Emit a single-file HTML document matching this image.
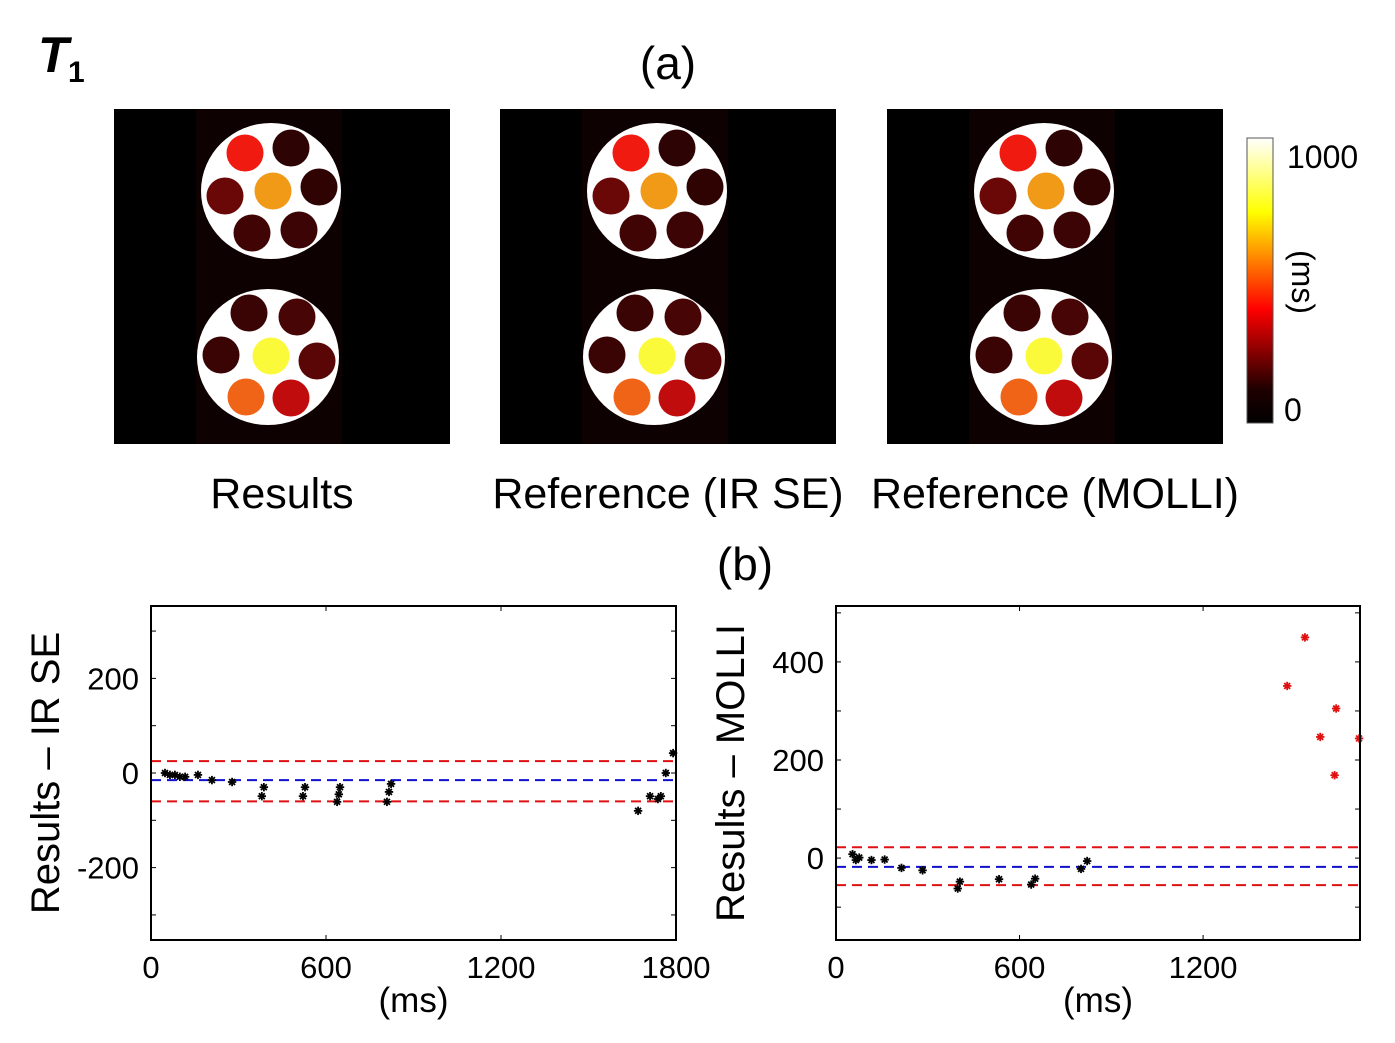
<!DOCTYPE html>
<html><head><meta charset="utf-8"><style>
html,body{margin:0;padding:0;background:#fff;}
svg{display:block;font-family:"Liberation Sans",Arial,sans-serif;}
</style></head><body>
<svg id="fig" width="1395" height="1043" viewBox="0 0 1395 1043">
<defs>
<linearGradient id="hot" x1="0" y1="1" x2="0" y2="0">
<stop offset="0" stop-color="#000"/><stop offset="0.12" stop-color="#200000"/><stop offset="0.4" stop-color="#ff0000"/><stop offset="0.74" stop-color="#ffff00"/><stop offset="1" stop-color="#fff"/>
</linearGradient>
<g id="phantom">
<rect x="0" y="0" width="336" height="335" fill="#000"/>
<rect x="82" y="0" width="146" height="335" fill="#0e0101"/>
<ellipse cx="157" cy="82" rx="70" ry="68" fill="#fff"/>
<ellipse cx="154" cy="248" rx="71" ry="68" fill="#fff"/>
</g>
</defs>
<text x="38" y="72" font-size="50" font-weight="bold" font-style="italic">T</text>
<text x="68" y="82" font-size="30" font-weight="bold">1</text>
<text x="668" y="79" font-size="46" text-anchor="middle">(a)</text>
<g id="panels"></g>
<rect x="1247" y="138" width="26" height="285" fill="url(#hot)" stroke="#555" stroke-width="1"/>
<text x="1287" y="168" font-size="32">1000</text>
<text x="1284" y="421" font-size="32">0</text>
<text transform="translate(1292,282) rotate(90)" font-size="32" text-anchor="middle">(ms)</text>
<text x="282" y="508" font-size="43" text-anchor="middle">Results</text>
<text x="668" y="508" font-size="43" text-anchor="middle">Reference (IR SE)</text>
<text x="1055" y="508" font-size="43" text-anchor="middle">Reference (MOLLI)</text>
<text x="745" y="580" font-size="46" text-anchor="middle">(b)</text>
<g id="plots"></g>
</svg>
<script>
const NS='http://www.w3.org/2000/svg';
function mk(tag,attrs,parent){const e=document.createElementNS(NS,tag);for(const k in attrs)e.setAttribute(k,attrs[k]);parent.appendChild(e);return e;}
const panelX=[114,500,887];
const panelNames=['results-map','reference-irse-map','reference-molli-map'];
const vialCx=[131,177,111,159,205,138,185, 135,183,107,157,203,132,177];
const vialCy=[44,39,87,82,78,124,121, 204,208,246,247,252,288,289];
const vialColor=['#f01a10','#2e0303','#6a0808','#f09a18','#300303','#400404','#3c0404','#3a0404','#480505','#3a0404','#fafa3a','#5a0606','#f06418','#c00c0c'];
const panels=document.getElementById('panels');
panelX.forEach((px,i)=>{
  const g=mk('g',{transform:`translate(${px},109)`},panels);
  
  
  mk('use',{href:'#phantom'},g);
  vialCx.forEach((cx,j)=>{
    const c=mk('circle',{cx:cx,cy:vialCy[j],r:18.5,fill:vialColor[j]},g);
    
    
  });
});
const leftX=[48,65,82,99,117,161,209,278,380,387,521,528,638,644,648,809,816,823,1670,1711,1738,1748,1765,1790];
const leftY=[0,-4,-4,-8,-8,-4,-15,-19,-49,-30,-49,-30,-61,-45,-30,-61,-40,-23,-80,-49,-55,-49,0,42];
const leftLines=[25,-15,-60];
const leftXTicks=[0,600,1200,1800];
const leftYTicks=[-200,0,200];
const rightX=[54,76,65,116,159,214,283,398,405,533,651,638,801,821];
const rightY=[8,1,-4,-4,-3,-20,-25,-62,-48,-43,-42,-54,-22,-6];
const rightRedX=[1533,1475,1635,1583,1710,1630];
const rightRedY=[450,351,305,247,244,169];
const rightLines=[22,-18,-55];
const rightXTicks=[0,600,1200];
const rightYTicks=[0,200,400];
const plots=document.getElementById('plots');
function star(g,x,y,col){
  const s=mk('g',{stroke:col,'stroke-width':1.8},g);
  
  
  const r=4.2;
  mk('line',{x1:x-r,y1:y,x2:x+r,y2:y},s);
  mk('line',{x1:x,y1:y-r,x2:x,y2:y+r},s);
  mk('line',{x1:x-r*0.7,y1:y-r*0.7,x2:x+r*0.7,y2:y+r*0.7},s);
  mk('line',{x1:x-r*0.7,y1:y+r*0.7,x2:x+r*0.7,y2:y-r*0.7},s);
}
function plot(name,L,T,W,H,xmax,ymin,ymax,xs,ys,rx,ry,lines,xt,yt,ylabel){
  const g=mk('g',{},plots);
  
  
  const sx=v=>L+v/xmax*W, sy=v=>T+(ymax-v)/(ymax-ymin)*H;
  const cols=['#e01010','#1010d0','#e01010'];
  lines.forEach((v,i)=>{
    const l=mk('line',{x1:L,x2:L+W,y1:sy(v),y2:sy(v),stroke:cols[i],'stroke-width':2,'stroke-dasharray':'10,6'},g);
    
    
  });
  xs.forEach((v,i)=>star(g,sx(v),sy(ys[i]),'#000'));
  rx.forEach((v,i)=>star(g,sx(v),sy(ry[i]),'#e01010'));
  const b=mk('rect',{x:L,y:T,width:W,height:H,fill:'none',stroke:'#000','stroke-width':2},g);
  
  
  xt.forEach(v=>{
    const x=sx(v);
    mk('line',{x1:x,x2:x,y1:T+H,y2:T+H-5,stroke:'#000'},g);
    mk('line',{x1:x,x2:x,y1:T,y2:T+5,stroke:'#000'},g);
    const t=mk('text',{x:x,y:T+H+38,'font-size':31,'text-anchor':'middle'},g);
    t.textContent=v;
    
    
  });
  for(let v=Math.ceil(ymin/100)*100;v<=ymax;v+=100){
    const y=sy(v);
    mk('line',{x1:L,x2:L+5,y1:y,y2:y,stroke:'#000'},g);
    mk('line',{x1:L+W,x2:L+W-5,y1:y,y2:y,stroke:'#000'},g);
  }
  yt.forEach(v=>{
    const t=mk('text',{x:L-12,y:sy(v)+11,'font-size':31,'text-anchor':'end'},g);
    t.textContent=v;
    
    
  });
  const xl=mk('text',{x:L+W/2,y:T+H+72,'font-size':35,'text-anchor':'middle'},g);
  xl.textContent='(ms)';
  
  
  const yl=mk('text',{transform:`translate(${L-92},${T+H/2}) rotate(-90)`,'font-size':40,'text-anchor':'middle'},g);
  yl.textContent=ylabel;
  
  
}
plot('irse-difference-plot',151,606,525,334,1800,-353,353,leftX,leftY,[],[],leftLines,leftXTicks,leftYTicks,'Results \u2013 IR SE');
plot('molli-difference-plot',836,606,524,334,1713,-167,514,rightX,rightY,rightRedX,rightRedY,rightLines,rightXTicks,rightYTicks,'Results \u2013 MOLLI');
</script>
</body></html>
